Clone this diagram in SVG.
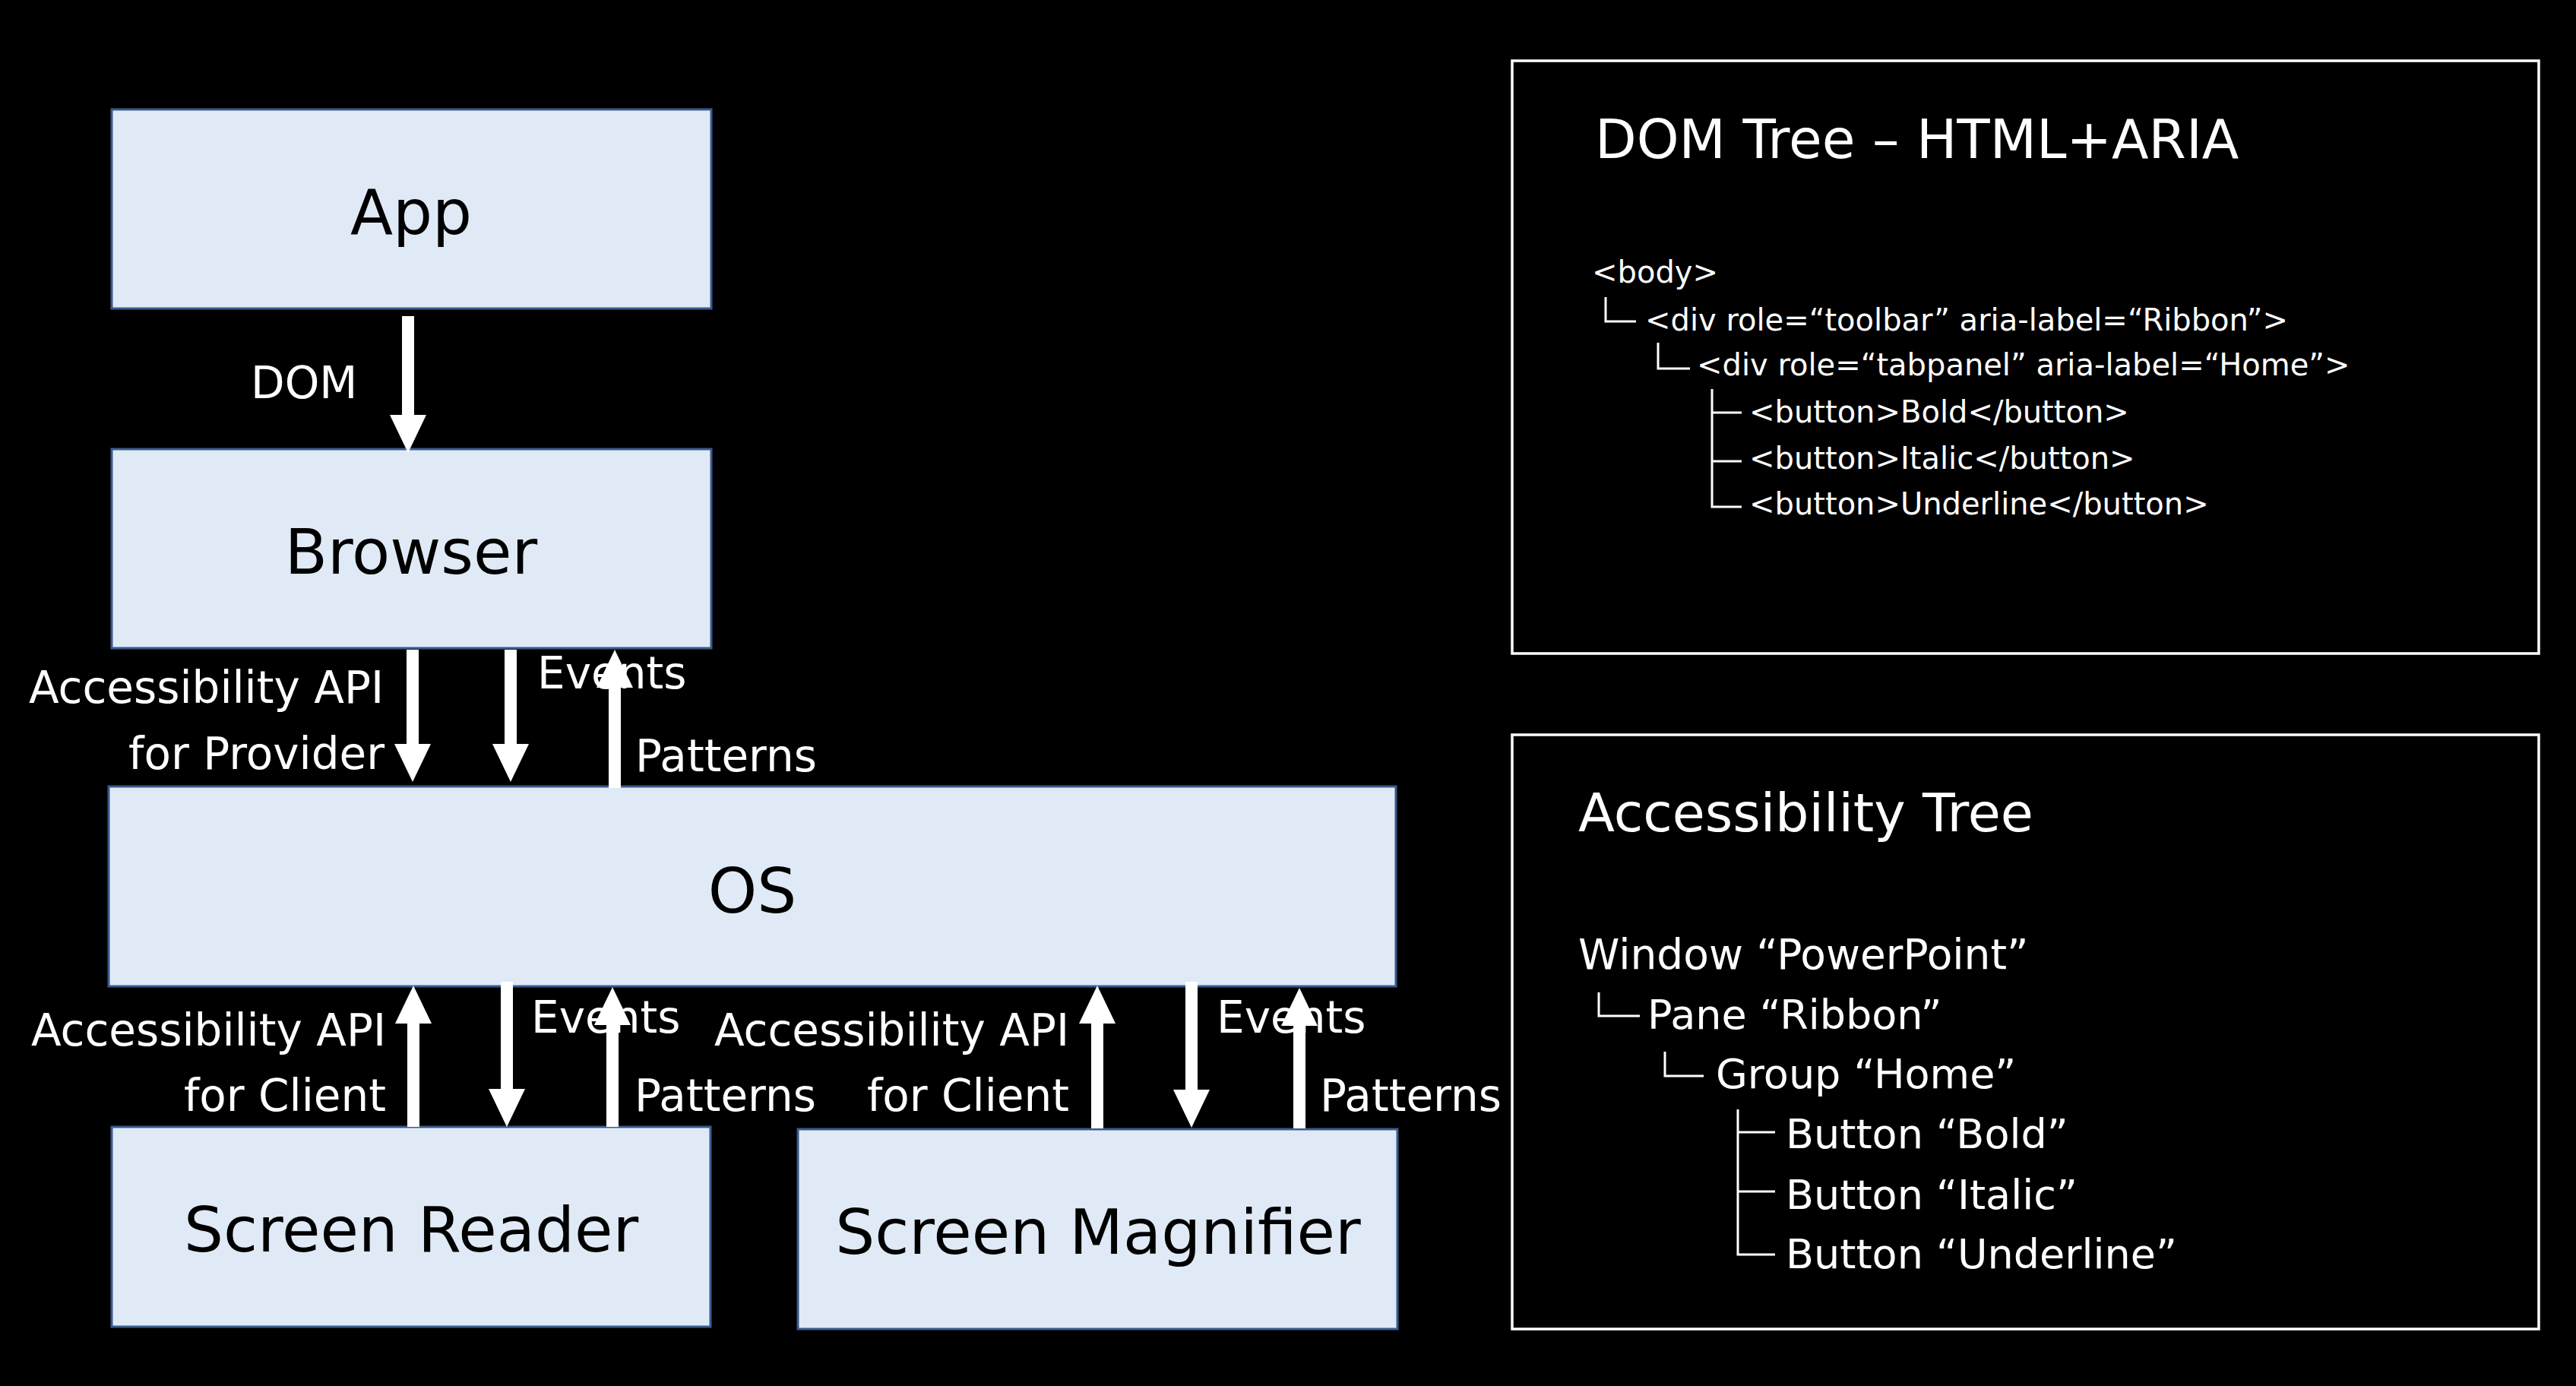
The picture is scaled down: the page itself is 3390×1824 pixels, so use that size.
<svg xmlns="http://www.w3.org/2000/svg" width="3390" height="1824" viewBox="0 0 3390 1824">
<style>
.box{fill:#DFEAF6;stroke:#3A5A8C;stroke-width:3}
.panel{fill:none;stroke:#FFFFFF;stroke-width:3.5}
.big{font-family:"DejaVu Sans",sans-serif;font-size:82px;fill:#000000;text-anchor:middle}
.lbl{font-family:"DejaVu Sans",sans-serif;font-size:58px;fill:#FFFFFF}
.end{text-anchor:end}
.title{font-family:"DejaVu Sans",sans-serif;font-size:71px;fill:#FFFFFF}
.code{font-family:"DejaVu Sans",sans-serif;font-size:40px;fill:#FFFFFF}
.item{font-family:"DejaVu Sans",sans-serif;font-size:54px;fill:#FFFFFF}
.arrow{stroke:#FFFFFF;stroke-width:16;fill:none;marker-end:url(#head)}
.tree{stroke:#FFFFFF;stroke-width:3;fill:none}
</style>
<defs>
<marker id="head" markerUnits="userSpaceOnUse" markerWidth="50" markerHeight="48" viewBox="0 0 50 48" refX="0" refY="24" orient="auto">
<path d="M0,0 L50,24 L0,48 Z" fill="#FFFFFF"/>
</marker>
</defs>
<rect x="0" y="0" width="3390" height="1824" fill="#000000"/>

<g id="app"><rect class="box" x="147" y="144" width="789" height="262"/><text class="big" x="541" y="308">App</text></g>
<g id="browser"><rect class="box" x="147" y="591" width="789" height="262"/><text class="big" x="541" y="755">Browser</text></g>
<g id="os"><rect class="box" x="143" y="1035" width="1694" height="263"/><text class="big" x="990" y="1201">OS</text></g>
<g id="screen-reader"><rect class="box" x="147" y="1483" width="788" height="263"/><text class="big" x="541" y="1647">Screen Reader</text></g>
<g id="screen-magnifier"><rect class="box" x="1050" y="1486" width="789" height="263"/><text class="big" x="1445" y="1650">Screen Magnifier</text></g>

<g id="labels">
<text class="lbl" x="330" y="524">DOM</text>
<text class="lbl end" x="505" y="925">Accessibility API</text>
<text class="lbl end" x="506" y="1012">for Provider</text>
<text class="lbl" x="707" y="906">Events</text>
<text class="lbl" x="836" y="1015">Patterns</text>
<text class="lbl end" x="508" y="1376">Accessibility API</text>
<text class="lbl end" x="508" y="1462">for Client</text>
<text class="lbl" x="699" y="1359">Events</text>
<text class="lbl" x="835" y="1462">Patterns</text>
<text class="lbl end" x="1407" y="1376">Accessibility API</text>
<text class="lbl end" x="1407" y="1462">for Client</text>
<text class="lbl" x="1601" y="1359">Events</text>
<text class="lbl" x="1737" y="1462">Patterns</text>
</g>

<g id="connectors">
<line class="arrow" x1="537" y1="416" x2="537" y2="546"/>
<line class="arrow" x1="543" y1="855" x2="543" y2="979"/>
<line class="arrow" x1="672" y1="855" x2="672" y2="979"/>
<line class="arrow" x1="809" y1="1037" x2="809" y2="905"/>
<line class="arrow" x1="544" y1="1483" x2="544" y2="1347"/>
<line class="arrow" x1="667" y1="1292" x2="667" y2="1433"/>
<line class="arrow" x1="806" y1="1483" x2="806" y2="1349"/>
<line class="arrow" x1="1444" y1="1485" x2="1444" y2="1347"/>
<line class="arrow" x1="1568" y1="1292" x2="1568" y2="1434"/>
<line class="arrow" x1="1710" y1="1485" x2="1710" y2="1350"/>
</g>

<g id="dom-tree">
<rect class="panel" x="1990" y="80" width="1351" height="780"/>
<text class="title" x="2099" y="208">DOM Tree – HTML+ARIA</text>
<text class="code" x="2095" y="372">&lt;body&gt;</text>
<text class="code" x="2165" y="435">&lt;div role=“toolbar” aria-label=“Ribbon”&gt;</text>
<text class="code" x="2233" y="494">&lt;div role=“tabpanel” aria-label=“Home”&gt;</text>
<text class="code" x="2302" y="556">&lt;button&gt;Bold&lt;/button&gt;</text>
<text class="code" x="2302" y="617">&lt;button&gt;Italic&lt;/button&gt;</text>
<text class="code" x="2302" y="677">&lt;button&gt;Underline&lt;/button&gt;</text>
<path class="tree" d="M2113,391 V423 H2153 M2182,451 V485 H2224 M2253,512 V667 H2292 M2253,543 H2292 M2253,607 H2292"/>
</g>

<g id="accessibility-tree">
<rect class="panel" x="1990" y="967" width="1351" height="782"/>
<text class="title" x="2077" y="1094" style="font-size:70px">Accessibility Tree</text>
<text class="item" x="2077" y="1275" style="font-size:55px">Window “PowerPoint”</text>
<text class="item" x="2168" y="1354">Pane “Ribbon”</text>
<text class="item" x="2258" y="1432">Group “Home”</text>
<text class="item" x="2350" y="1511">Button “Bold”</text>
<text class="item" x="2350" y="1591">Button “Italic”</text>
<text class="item" x="2350" y="1669">Button “Underline”</text>
<path class="tree" d="M2104,1306 V1337 H2158 M2191,1384 V1416 H2242 M2287,1460 V1651 H2336 M2287,1490 H2336 M2287,1568 H2336"/>
</g>
</svg>
